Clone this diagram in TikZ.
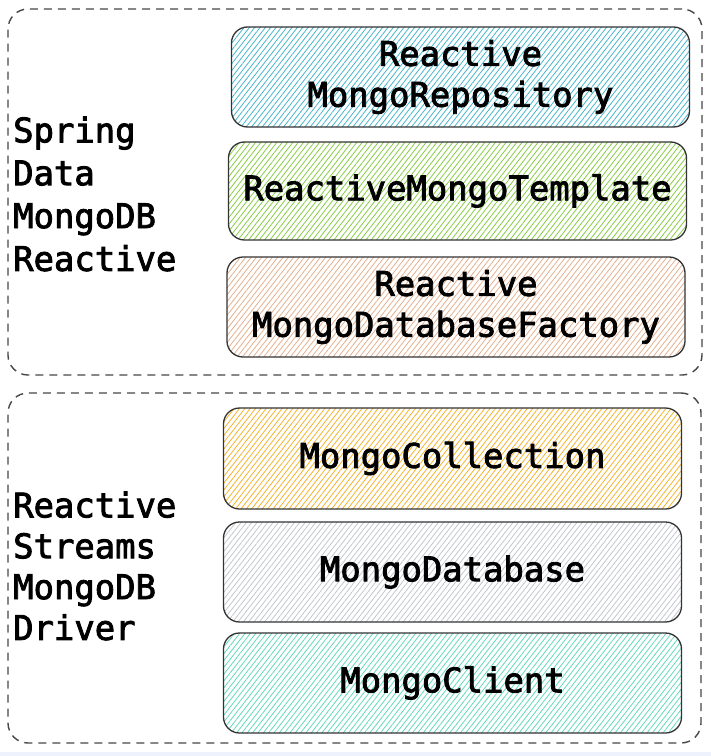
\documentclass[tikz,border=0pt]{standalone}
\usepackage{fontspec}
\newfontfamily\codefont[FakeBold=2.5]{DejaVu Sans Mono}
\usetikzlibrary{patterns.meta}
\definecolor{hcyan}{HTML}{45B5CD}
\definecolor{hgreen}{HTML}{86CC42}
\definecolor{hpeach}{HTML}{E3B08E}
\definecolor{hyellow}{HTML}{F4B22A}
\definecolor{hgray}{HTML}{C2C7CD}
\definecolor{hteal}{HTML}{62D9B8}
\definecolor{stripcol}{HTML}{EEF2FC}
\definecolor{edge}{HTML}{333333}
\begin{document}
\begin{tikzpicture}[x=1bp,y=-1bp,
  outerbox/.style={draw=black!72, dash pattern=on 8bp off 6bp, line width=1.4bp, rounded corners=20bp, inner sep=0},
  layer/.style={draw=edge, line width=1.3bp, rounded corners=16bp, inner sep=0,
    minimum width=458bp, minimum height=100bp, align=center,
    font=\codefont\fontsize{34}{41}\selectfont,
    pattern={Lines[angle=52,distance=4.2bp,line width=0.8bp]}, pattern color=#1},
  lbl/.style={anchor=west, inner sep=0, align=left}]
\useasboundingbox (0,0) rectangle (711,756);
\fill[stripcol] (0,752) rectangle (711,756);

% outer groups
\node[outerbox, minimum width=694bp, minimum height=366bp] (spring) at (355,192) {};
\node[outerbox, minimum width=693bp, minimum height=350bp] (driver) at (354.5,568) {};

% group labels
\node[lbl, font=\codefont\fontsize{34}{43}\selectfont] (springlbl) at (13,194) {Spring\\Data\\MongoDB\\Reactive};
\node[lbl, font=\codefont\fontsize{34}{41}\selectfont] (driverlbl) at (13,566) {Reactive\\Streams\\MongoDB\\Driver};

% layers
\node[layer=hcyan] (repo) at (460.5,77) {Reactive\\MongoRepository};
\node[layer=hgreen, minimum height=98bp] (template) at (457.5,191) {ReactiveMongoTemplate};
\node[layer=hpeach] (factory) at (456,307) {Reactive\\MongoDatabaseFactory};
\node[layer=hyellow, minimum height=101bp] (collection) at (452.5,458.5) {MongoCollection};
\node[layer=hgray] (database) at (452.5,572) {MongoDatabase};
\node[layer=hteal] (client) at (452.5,683) {MongoClient};
\end{tikzpicture}
\end{document}
